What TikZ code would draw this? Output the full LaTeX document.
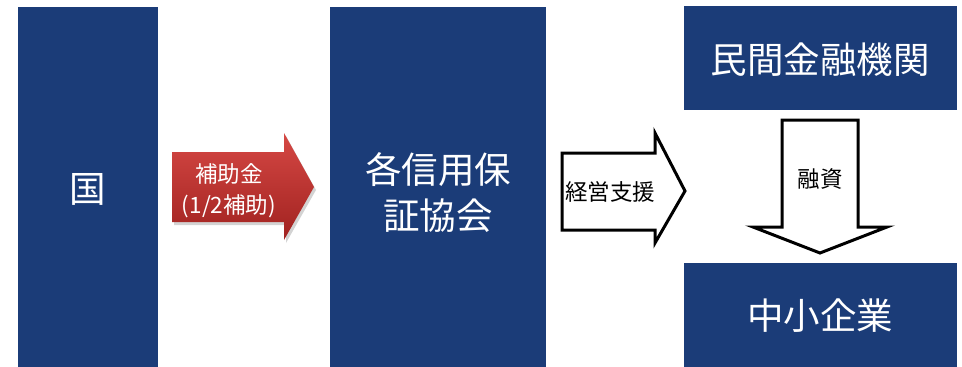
\documentclass[tikz,border=0pt]{standalone}
\usepackage{fontspec}
\setmainfont{Noto Sans CJK JP}
\usetikzlibrary{shadows}
\definecolor{navy}{RGB}{27,60,120}
\definecolor{redtop}{RGB}{214,72,68}
\definecolor{redbot}{RGB}{160,34,32}
\begin{document}
\begin{tikzpicture}[x=1pt,y=-1pt,
  navybox/.style={fill=navy,draw=none,text=white,align=center},
  bigtxt/.style={font=\fontsize{36.5}{46}\selectfont},
  lbl/.style={font=\fontsize{22.5}{31}\selectfont,align=center}]
\useasboundingbox (0,0) rectangle (962,367);
% boxes
\fill[navy] (18,7) rectangle (158,367);
\node[text=white,bigtxt] (kuni) at (88,189) {国};
\fill[navy] (330,7) rectangle (546,367);
\node[text=white,bigtxt,align=center] (kyokai) at (438,193) {各信用保\\証協会};
\fill[navy] (684,6) rectangle (957,110);
\node[text=white,bigtxt] (kinyu) at (820,60) {民間金融機関};
\fill[navy] (684,263) rectangle (957,367);
\node[text=white,bigtxt] (chusho) at (820,316) {中小企業};
% red arrow
\shade[top color=redtop,bottom color=redbot,drop shadow={opacity=0.35,shadow xshift=2pt,shadow yshift=-3pt}]
  (172,152) -- (284,152) -- (284,133) -- (314,187) -- (284,240) -- (284,222) -- (172,222) -- cycle;
\node[lbl,text=white] (hojo) at (229,191) {補助金\\(1/2補助)};
% black outline arrow
\draw[line width=3pt,fill=white,line join=miter]
  (562,153) -- (655,153) -- (655,133) -- (685,191) -- (655,243) -- (655,230) -- (562,230) -- cycle;
\node[lbl] (keiei) at (610,192) {経営支援};
% down arrow
\draw[line width=3pt,fill=white,line join=miter]
  (782,120) -- (858,120) -- (858,227) -- (887,227) -- (820,253) -- (753,227) -- (782,227) -- cycle;
\node[lbl] (yushi) at (820,179) {融資};
\end{tikzpicture}
\end{document}
